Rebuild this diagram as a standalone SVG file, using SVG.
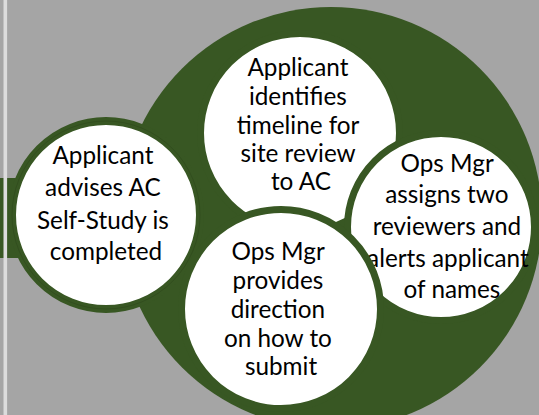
<svg xmlns="http://www.w3.org/2000/svg" width="539" height="415" viewBox="0 0 539 415">
  <style>
    .bg { fill: #a5a5a5; }
    .green { fill: #385723; }
    .node { fill: #ffffff; stroke: #385723; }
    .lbl { font-family: Lato, "Liberation Sans", sans-serif; font-size: 24.3px; fill: #000000; text-anchor: middle; }
  </style>
  <rect class="bg" x="0" y="0" width="539" height="415"/>
  <rect class="green" id="band" x="0" y="178" width="140" height="80"/>
  <rect id="stripe" x="3.5" y="0" width="3.6" height="415" fill="#dcdcdc"/>
  <circle class="green" id="hub" cx="331" cy="218" r="211"/>

  <g id="connectors"></g>

  <g id="node-timeline">
    <circle class="node" cx="300" cy="133" r="99.5" stroke-width="7"/>
    <text class="lbl">
      <tspan x="301" y="76">Applicant</tspan>
      <tspan x="301" y="105">identifies</tspan>
      <tspan x="301" y="133.5">timeline for</tspan>
      <tspan x="301" y="162">site review</tspan>
      <tspan x="301" y="190">to AC</tspan>
    </text>
  </g>

  <g id="node-selfstudy">
    <circle class="node" cx="106" cy="215" r="94" stroke-width="8"/>
    <circle cx="106" cy="215" r="94" fill="none" stroke="#2a4219" stroke-width="0.7" opacity="0.6"/>
    <text class="lbl">
      <tspan x="106" y="164">Applicant</tspan>
      <tspan x="106" y="196">advises AC</tspan>
      <tspan x="106" y="228.5">Self-Study is</tspan>
      <tspan x="106" y="260">completed</tspan>
    </text>
  </g>

  <g id="node-reviewers">
    <circle class="node" cx="441" cy="227" r="93.5" stroke-width="7"/>
    <text class="lbl">
      <tspan x="450" y="172">Ops Mgr</tspan>
      <tspan x="450" y="203">assigns two</tspan>
      <tspan x="450" y="235">reviewers and</tspan>
      <tspan x="451" y="266.5">alerts applicant</tspan>
      <tspan x="452" y="297.5">of names</tspan>
    </text>
  </g>

  <g id="node-submit">
    <circle class="node" cx="281" cy="309" r="99.5" stroke-width="7"/>
    <text class="lbl">
      <tspan x="281" y="260">Ops Mgr</tspan>
      <tspan x="281" y="289">provides</tspan>
      <tspan x="281" y="318">direction</tspan>
      <tspan x="281" y="346.5">on how to</tspan>
      <tspan x="281" y="375">submit</tspan>
    </text>
  </g>
</svg>
